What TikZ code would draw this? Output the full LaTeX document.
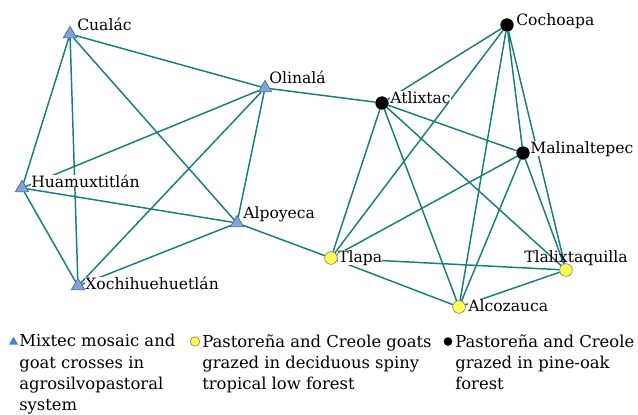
\documentclass[tikz,border=0pt]{standalone}
\usepackage{fontspec}
\setmainfont{DejaVu Serif}
\usepackage{tikz}
\usetikzlibrary{shapes.geometric}
\definecolor{linkteal}{RGB}{25,125,125}
\definecolor{mixblue}{RGB}{125,165,220}
\definecolor{keyblue}{RGB}{70,130,210}
\definecolor{lowyellow}{RGB}{255,255,85}
\tikzstyle{Mixtec}=[regular polygon, regular polygon sides=3, minimum size=11.5pt, inner sep=0pt, fill=mixblue, draw=black!40!mixblue, line width=0.5pt]
\tikzstyle{Low}=[circle, minimum size=9.5pt, inner sep=0pt, fill=lowyellow, draw=black!45!lowyellow!60!gray, line width=0.5pt]
\tikzstyle{Pine}=[circle, minimum size=9.5pt, inner sep=0pt, fill=black, draw=black]
\tikzstyle{Link}=[draw=linkteal, line width=1.1pt]
\tikzstyle{Place}=[anchor=base west, inner sep=0pt, fill=white, font=\fontsize{11.7}{14}\selectfont]
\tikzstyle{Key}=[anchor=north west, align=left, inner sep=0pt, font=\fontsize{12.3}{16}\selectfont]

\begin{document}
\begin{tikzpicture}[x=0.75pt, y=-0.75pt]
    \useasboundingbox (0,0) rectangle (638,414);
    \path
    (70,34) node[Mixtec] (cualac) {}
    (265,88) node[Mixtec] (olinala) {}
    (22,188) node[Mixtec] (huamux) {}
    (237,223) node[Mixtec] (alpoyeca) {}
    (78,286) node[Mixtec] (xochi) {}
    (382,103) node[Pine] (atlixtac) {}
    (507,25) node[Pine] (cochoapa) {}
    (523,153) node[Pine] (malinal) {}
    (331,258) node[Low] (tlapa) {}
    (566,270) node[Low] (tlalix) {}
    (459,307) node[Low] (alcozauca) {};

    \draw[Link] (huamux) -- (cualac) -- (olinala) -- (huamux) -- (xochi) -- (cualac)
    -- (alpoyeca) -- (olinala) -- (xochi) -- (alpoyeca) -- (huamux);
    \draw[Link] (olinala) -- (atlixtac) (alpoyeca) -- (tlapa);
    \draw[Link] (atlixtac) -- (cochoapa) -- (malinal) -- (atlixtac) -- (tlapa) -- (cochoapa)
    -- (alcozauca) -- (atlixtac) -- (tlalix) -- (cochoapa);
    \draw[Link] (tlapa) -- (malinal) -- (alcozauca) -- (tlapa) -- (tlalix) -- (malinal)
    (tlalix) -- (alcozauca);

    \path
    (77,31) node[Place] (cualac-t) {Cualác}
    (269,83) node[Place] (olinala-t) {Olinalá}
    (31,187) node[Place] (huamux-t) {Huamuxtitlán}
    (243,218) node[Place] (alpoyeca-t) {Alpoyeca}
    (85,289) node[Place] (xochi-t) {Xochihuehuetlán}
    (390,103) node[Place] (atlixtac-t) {Atlixtac}
    (516,26) node[Place] (cochoapa-t) {Cochoapa}
    (530,153) node[Place] (malinal-t) {Malinaltepec}
    (338,262) node[Place] (tlapa-t) {Tlapa}
    (524,262) node[Place, fill=none] (tlalix-t) {Tlalixtaquilla}
    (468,311) node[Place] (alcozauca-t) {Alcozauca};

    \path
    (13.5,342) node[Mixtec, minimum size=8pt, draw=none, fill=keyblue] (key-mixtec) {}
    (19,334) node[Key] (key-mixtec-t) {Mixtec mosaic and\\goat crosses in\\agrosilvopastoral\\system}
    (195,341.5) node[Low, minimum size=7pt] (key-low) {}
    (202,334) node[Key] (key-low-t) {Pastoreña and Creole goats\\grazed in deciduous spiny\\tropical low forest}
    (448,341.5) node[Pine, minimum size=6pt] (key-pine) {}
    (455,334) node[Key] (key-pine-t) {Pastoreña and Creole\\grazed in pine-oak\\forest};
\end{tikzpicture}
\end{document}
